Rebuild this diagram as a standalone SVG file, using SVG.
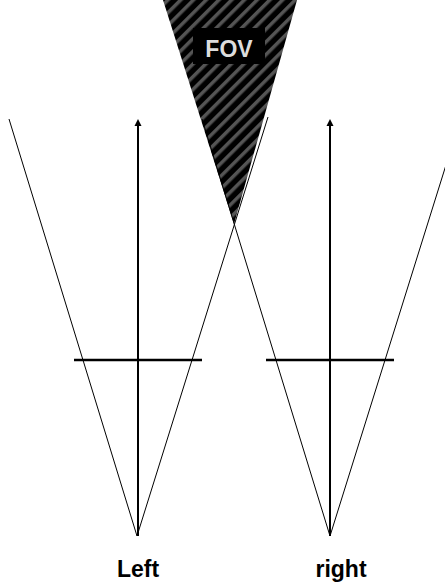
<svg xmlns="http://www.w3.org/2000/svg" width="445" height="586" viewBox="0 0 445 586">
<style>
.ray{stroke:#000;stroke-width:1;fill:none}
.axis{stroke:#000;stroke-width:2;fill:none}
.bar{stroke:#000;stroke-width:2.5;fill:none}
.lbl{font-family:"Liberation Sans",Arial,sans-serif;font-weight:bold;font-size:23px;text-anchor:middle}
</style>
<defs>
<pattern id="hatch" width="9" height="9" patternUnits="userSpaceOnUse" patternTransform="rotate(45)">
<rect width="9" height="9" fill="#000"/>
<rect width="3.5" height="9" fill="#555"/>
</pattern>
<marker id="arr" markerWidth="7" markerHeight="8" refX="3" refY="4" orient="auto" markerUnits="userSpaceOnUse">
<path d="M0,0.5 L7,4 L0,7.5 Z" fill="#000"/>
</marker>
</defs>
<g id="fov">
<polygon points="163,0 297,0 234,224" fill="url(#hatch)"/>
<rect x="193" y="28" width="72" height="36" fill="#000"/>
<text x="229" y="57" class="lbl" fill="#ddd">FOV</text>
</g>
<g id="connectors">
<line class="ray" x1="137" y1="536" x2="9" y2="119"/>
<line class="ray" x1="137" y1="536" x2="268" y2="117"/>
<line class="ray" x1="330" y1="536" x2="202" y2="119"/>
<line class="ray" x1="330" y1="536" x2="461" y2="117"/>
<line class="axis" x1="138" y1="536" x2="138" y2="123" marker-end="url(#arr)"/>
<line class="axis" x1="330" y1="536" x2="330" y2="123" marker-end="url(#arr)"/>
</g>
<g id="left-camera">
<line class="bar" x1="74" y1="360" x2="202" y2="360"/>
<text x="138" y="577" class="lbl">Left</text>
</g>
<g id="right-camera">
<line class="bar" x1="266" y1="360" x2="394" y2="360"/>
<text x="341" y="577" class="lbl">right</text>
</g>
</svg>
